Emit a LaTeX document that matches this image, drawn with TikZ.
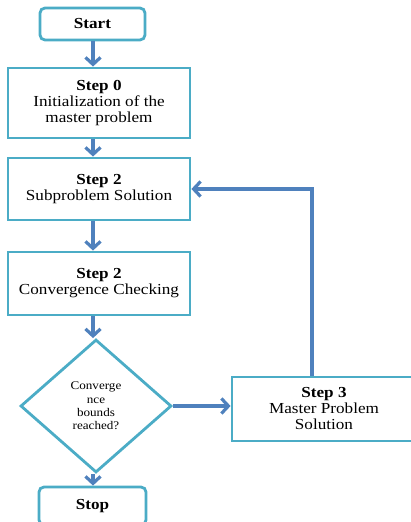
\documentclass[tikz,border=0pt]{standalone}
\usepackage{fontspec}
\setmainfont{Liberation Serif}[FakeStretch=1.12]
\usepackage{xcolor}
\usepackage{tikz}
\usetikzlibrary{arrows.meta, shapes.geometric, calc}
\definecolor{fteal}{HTML}{4BACC6}
\definecolor{fblue}{HTML}{4F81BD}
\tikzset{
  stepbox/.style={draw=fteal, fill=white, line width=2.8pt,
                  minimum width=182pt, align=center, inner sep=2pt,
                  font=\fontsize{15.3}{16}\selectfont},
  termbox/.style={draw=fteal, fill=white, line width=2.8pt, rounded corners=5pt,
                  minimum width=105pt, minimum height=32pt,
                  font=\fontsize{15.3}{16}\selectfont\bfseries},
  decbox/.style={draw=fteal, fill=white, diamond, line width=2.8pt, inner sep=0pt,
                 minimum width=151pt, minimum height=133pt, align=center,
                 font=\fontsize{11.7}{13.3}\selectfont},
  farrow/.style={-{Straight Barb[length=7pt, width=15pt]}, fblue, line width=3.2pt},
}

\begin{document}
\begin{tikzpicture}[x=1pt, y=1pt]
  \useasboundingbox (0,0) rectangle (410,522);

  %% main column, arrows run at x=93
  \coordinate (axis) at (93,0);
  \node[termbox] (start) at (92.5,498) {Start};
  \node[stepbox, minimum height=70pt] (step0) at (99,419)
    {\textbf{Step 0}\\Initialization of the\\master problem};
  \node[stepbox, minimum height=62pt] (sub) at (99,333)
    {\textbf{Step 2}\\Subproblem Solution};
  \node[stepbox, minimum height=63pt] (conv) at (99,238.5)
    {\textbf{Step 2}\\Convergence Checking};
  \node[decbox] (dec) at (96,116)
    {Converge\\nce\\bounds\\reached?};
  \node[termbox, minimum width=107pt, minimum height=38pt] (stop) at (92.5,16) {Stop};

  %% right branch
  \node[stepbox, minimum width=184pt, minimum height=64pt] (step3) at (324,113)
    {\textbf{Step 3}\\Master Problem\\Solution};
  \coordinate (back) at (312,333);

  %% connectors
  \draw[farrow] (start.south -| axis) -- (step0.north -| axis);
  \draw[farrow] (step0.south -| axis) -- (sub.north -| axis);
  \draw[farrow] (sub.south -| axis) -- (conv.north -| axis);
  \draw[farrow] (conv.south -| axis) -- (dec.north -| axis);
  \draw[farrow] (dec.south -| axis) -- (stop.north -| axis);
  \draw[farrow] (dec.east) -- (dec.east -| step3.west);
  \draw[farrow] (step3.north -| back) -- (back) -- (sub.east);

\end{tikzpicture}
\end{document}
